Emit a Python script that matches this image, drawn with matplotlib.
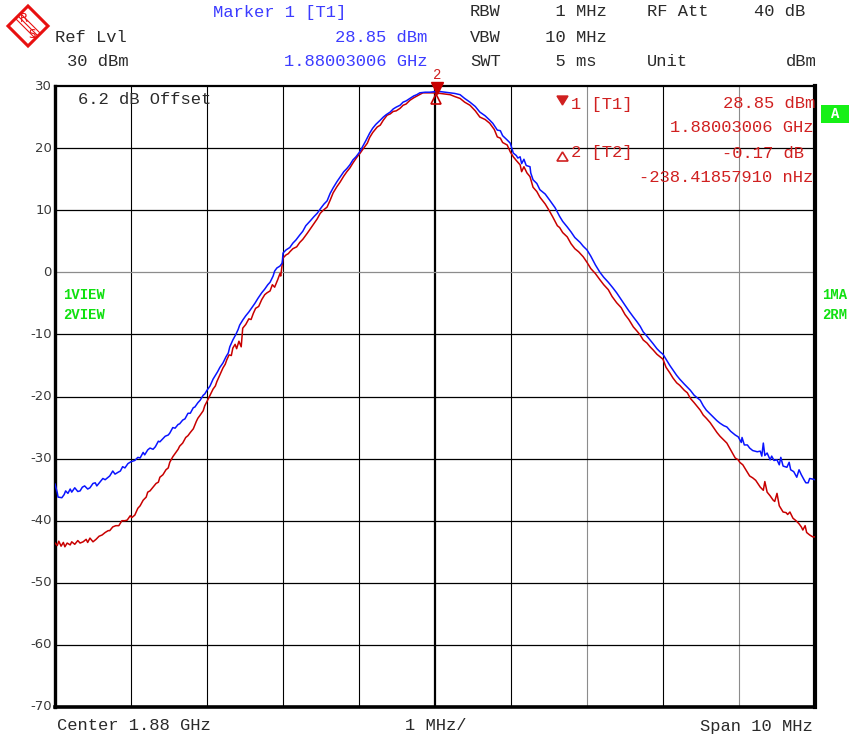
import matplotlib
matplotlib.use("Agg")
import matplotlib.pyplot as plt
from matplotlib.patches import Polygon, Rectangle

# ---- trace data: frequency offset from center (MHz), level (dBm) ----
freq_ma = [-5.00, -4.97, -4.96, -4.91, -4.88, -4.86, -4.83, -4.80, -4.78, -4.74, -4.70, -4.67, -4.64, -4.61,
           -4.57, -4.54, -4.50, -4.47, -4.45, -4.41, -4.37, -4.34, -4.30, -4.28, -4.24, -4.21, -4.17, -4.14,
           -4.11, -4.08, -4.04, -4.00, -3.95, -3.91, -3.88, -3.84, -3.82, -3.78, -3.75, -3.71, -3.68, -3.64,
           -3.62, -3.58, -3.55, -3.51, -3.49, -3.45, -3.42, -3.38, -3.36, -3.32, -3.29, -3.25, -3.22, -3.18,
           -3.16, -3.12, -3.09, -3.05, -3.03, -3.00, -2.96, -2.92, -2.89, -2.86, -2.83, -2.79, -2.75, -2.72,
           -2.70, -2.66, -2.62, -2.59, -2.57, -2.53, -2.49, -2.45, -2.41, -2.37, -2.33, -2.28, -2.24, -2.20,
           -2.17, -2.13, -2.11, -2.08, -2.04, -2.01, -2.00, -1.96, -1.91, -1.87, -1.83, -1.78, -1.74, -1.70,
           -1.64, -1.59, -1.55, -1.51, -1.46, -1.42, -1.38, -1.34, -1.29, -1.25, -1.20, -1.16, -1.12, -1.08,
           -1.04, -0.99, -0.95, -0.91, -0.86, -0.82, -0.78, -0.72, -0.68, -0.64, -0.59, -0.55, -0.51, -0.46,
           -0.42, -0.38, -0.33, -0.28, -0.24, -0.20, -0.13, -0.07, 0.01, 0.07, 0.13, 0.20, 0.26, 0.33,
           0.39, 0.46, 0.53, 0.59, 0.66, 0.72, 0.76, 0.82, 0.86, 0.89, 0.95, 0.99, 1.03, 1.07,
           1.09, 1.12, 1.14, 1.17, 1.20, 1.25, 1.26, 1.29, 1.34, 1.38, 1.45, 1.51, 1.58, 1.64,
           1.68, 1.74, 1.79, 1.84, 1.91, 1.95, 2.00, 2.05, 2.11, 2.17, 2.22, 2.28, 2.34, 2.39,
           2.45, 2.50, 2.55, 2.61, 2.66, 2.70, 2.74, 2.79, 2.83, 2.87, 2.92, 2.96, 3.00, 3.04,
           3.09, 3.13, 3.18, 3.22, 3.28, 3.32, 3.36, 3.41, 3.45, 3.49, 3.53, 3.57, 3.62, 3.66,
           3.71, 3.75, 3.80, 3.84, 3.89, 3.95, 3.99, 4.03, 4.04, 4.07, 4.11, 4.14, 4.18, 4.24,
           4.28, 4.30, 4.32, 4.34, 4.37, 4.41, 4.43, 4.46, 4.50, 4.53, 4.55, 4.58, 4.63, 4.66,
           4.68, 4.72, 4.76, 4.79, 4.82, 4.86, 4.88, 4.91, 4.93, 4.97, 5.00]
level_ma = [-34.1, -35.5, -36.2, -36.3, -35.8, -35.2, -35.6, -34.9, -35.4, -34.7, -35.3, -35.2, -34.6, -34.4,
            -34.9, -34.7, -34.0, -33.9, -34.4, -33.8, -33.2, -33.4, -33.0, -32.8, -32.0, -32.5, -32.2, -32.0,
            -31.3, -31.5, -30.8, -30.5, -30.3, -29.8, -29.9, -29.0, -29.4, -28.6, -28.3, -28.5, -28.1, -27.2,
            -27.3, -26.8, -26.4, -26.2, -25.9, -25.0, -25.1, -24.5, -24.4, -23.8, -23.6, -22.7, -22.7, -21.8,
            -21.7, -21.0, -20.6, -19.8, -19.6, -19.0, -18.3, -17.2, -16.6, -16.0, -15.3, -14.6, -13.6, -13.0,
            -12.0, -10.9, -10.0, -9.2, -8.5, -7.7, -7.0, -6.4, -5.7, -5.0, -4.2, -3.3, -2.7, -2.0,
            -1.6, -0.6, 0.2, 0.7, 1.0, 1.5, 3.1, 3.6, 4.0, 4.7, 5.2, 6.0, 6.6, 7.5,
            8.3, 9.0, 9.5, 10.2, 11.0, 11.5, 12.7, 13.6, 14.6, 15.3, 16.2, 16.7, 17.3, 18.1,
            18.6, 19.4, 20.3, 21.2, 22.4, 23.2, 23.8, 24.5, 25.0, 25.4, 25.8, 26.3, 26.6, 26.9,
            27.4, 27.6, 28.0, 28.4, 28.6, 28.9, 29.0, 29.0, 29.1, 29.1, 29.0, 28.9, 28.8, 28.6,
            28.0, 27.4, 26.7, 25.8, 25.2, 24.5, 24.0, 22.9, 22.8, 22.0, 21.3, 20.8, 19.2, 18.8,
            18.4, 18.6, 17.5, 18.2, 17.2, 17.0, 16.0, 14.9, 14.3, 13.3, 12.6, 11.6, 10.4, 9.0,
            8.2, 7.3, 6.5, 5.6, 4.8, 4.2, 3.6, 2.6, 1.2, 0.0, -0.8, -1.6, -2.5, -3.3,
            -4.4, -5.3, -6.2, -7.2, -8.0, -8.7, -9.6, -10.3, -10.9, -11.5, -12.3, -12.8, -13.2, -14.0,
            -15.0, -15.7, -16.6, -17.2, -18.0, -18.5, -19.0, -19.8, -20.2, -20.6, -21.5, -22.2, -22.8, -23.3,
            -23.9, -24.3, -24.7, -24.9, -25.6, -26.2, -26.5, -27.4, -26.6, -27.8, -27.8, -28.3, -28.7, -28.9,
            -28.8, -29.6, -27.5, -29.5, -29.1, -30.2, -29.6, -30.3, -30.2, -31.0, -29.8, -31.2, -31.4, -30.6,
            -31.8, -32.1, -33.0, -31.8, -32.6, -33.5, -33.9, -33.9, -33.2, -33.3, -33.4]

freq_rm = [-5.00, -4.97, -4.95, -4.92, -4.89, -4.87, -4.84, -4.80, -4.78, -4.74, -4.70, -4.67, -4.63, -4.59,
           -4.57, -4.54, -4.50, -4.46, -4.42, -4.38, -4.34, -4.30, -4.28, -4.24, -4.20, -4.16, -4.12, -4.08,
           -4.05, -4.01, -3.99, -3.95, -3.91, -3.88, -3.84, -3.80, -3.78, -3.75, -3.71, -3.67, -3.64, -3.62,
           -3.58, -3.54, -3.51, -3.49, -3.45, -3.41, -3.38, -3.36, -3.32, -3.28, -3.25, -3.22, -3.18, -3.14,
           -3.12, -3.09, -3.05, -3.03, -3.00, -2.96, -2.92, -2.89, -2.87, -2.83, -2.79, -2.76, -2.74, -2.71,
           -2.68, -2.66, -2.63, -2.61, -2.58, -2.55, -2.53, -2.49, -2.45, -2.42, -2.39, -2.36, -2.32, -2.28,
           -2.24, -2.21, -2.17, -2.14, -2.11, -2.07, -2.04, -2.03, -2.00, -1.96, -1.93, -1.91, -1.87, -1.82,
           -1.78, -1.74, -1.68, -1.64, -1.61, -1.55, -1.51, -1.47, -1.42, -1.38, -1.34, -1.29, -1.25, -1.20,
           -1.16, -1.12, -1.08, -1.03, -0.99, -0.95, -0.89, -0.86, -0.82, -0.76, -0.72, -0.68, -0.63, -0.59,
           -0.55, -0.51, -0.46, -0.42, -0.38, -0.33, -0.28, -0.22, -0.16, -0.09, -0.04, 0.03, 0.07, 0.13,
           0.20, 0.26, 0.33, 0.39, 0.46, 0.53, 0.59, 0.66, 0.72, 0.78, 0.82, 0.86, 0.89, 0.95,
           0.99, 1.03, 1.07, 1.12, 1.14, 1.17, 1.21, 1.25, 1.29, 1.34, 1.38, 1.45, 1.50, 1.55,
           1.61, 1.64, 1.68, 1.74, 1.79, 1.84, 1.89, 1.95, 2.00, 2.05, 2.11, 2.17, 2.22, 2.28,
           2.33, 2.39, 2.45, 2.50, 2.55, 2.61, 2.66, 2.70, 2.74, 2.79, 2.83, 2.87, 2.92, 2.96,
           3.00, 3.04, 3.09, 3.13, 3.18, 3.22, 3.28, 3.32, 3.36, 3.41, 3.45, 3.49, 3.53, 3.57,
           3.62, 3.66, 3.71, 3.75, 3.80, 3.84, 3.89, 3.95, 3.99, 4.01, 4.05, 4.09, 4.14, 4.18,
           4.22, 4.28, 4.32, 4.34, 4.37, 4.41, 4.45, 4.47, 4.50, 4.53, 4.55, 4.58, 4.62, 4.64,
           4.67, 4.71, 4.75, 4.79, 4.82, 4.84, 4.87, 4.89, 4.93, 4.97, 5.00]
level_rm = [-43.6, -44.0, -43.3, -44.1, -43.5, -44.2, -43.6, -43.9, -43.4, -43.8, -43.2, -43.6, -43.4, -43.0,
            -43.5, -42.8, -43.4, -43.0, -42.5, -42.3, -41.9, -41.6, -41.6, -41.0, -40.8, -40.8, -40.0, -40.0,
            -39.9, -39.2, -39.5, -39.1, -38.0, -37.6, -36.7, -36.2, -35.4, -35.2, -34.6, -34.0, -33.8, -33.0,
            -32.6, -31.8, -31.5, -30.6, -29.7, -29.0, -28.5, -28.0, -27.5, -26.6, -26.3, -25.8, -25.2, -24.0,
            -23.5, -23.0, -22.3, -21.5, -20.8, -19.8, -18.8, -18.3, -17.6, -16.5, -15.4, -14.8, -14.1, -13.3,
            -13.4, -12.2, -11.6, -12.3, -11.1, -12.0, -9.0, -8.4, -7.5, -7.6, -6.6, -5.8, -5.5, -4.4,
            -3.6, -3.3, -3.0, -2.0, -2.4, -1.2, -0.2, -0.6, 2.3, 2.8, 3.0, 3.3, 3.8, 4.1,
            4.8, 5.3, 6.3, 7.0, 7.5, 8.6, 9.5, 10.0, 10.5, 11.6, 12.8, 13.8, 14.5, 15.5,
            16.2, 16.8, 17.6, 18.5, 19.1, 19.8, 20.8, 21.7, 22.5, 23.4, 23.7, 24.5, 25.3, 25.5,
            25.9, 26.0, 26.4, 26.9, 27.1, 27.7, 28.1, 28.5, 28.9, 28.9, 28.9, 28.85, 28.8, 28.7,
            28.6, 28.3, 28.0, 27.4, 26.9, 26.0, 25.0, 24.6, 24.0, 23.0, 21.8, 21.6, 20.9, 20.5,
            19.4, 18.6, 18.0, 17.3, 16.2, 17.0, 16.0, 15.4, 13.7, 13.0, 12.1, 11.0, 10.0, 8.9,
            7.5, 7.2, 6.4, 5.7, 4.6, 3.8, 3.3, 2.5, 1.6, 0.6, -0.2, -1.2, -2.0, -2.8,
            -3.9, -4.9, -5.7, -6.8, -7.6, -8.8, -9.5, -10.1, -10.9, -11.4, -12.0, -12.5, -13.2, -13.6,
            -14.0, -15.3, -16.2, -17.0, -17.8, -18.2, -19.0, -19.4, -20.3, -21.0, -21.6, -22.2, -23.0, -23.5,
            -24.2, -24.9, -25.8, -26.4, -27.0, -27.5, -28.6, -29.9, -30.2, -30.6, -31.0, -31.8, -32.8, -33.1,
            -33.5, -34.6, -35.1, -33.7, -35.4, -36.0, -36.7, -36.9, -35.6, -37.6, -38.0, -38.6, -38.7, -39.0,
            -38.6, -39.6, -40.0, -40.5, -41.0, -41.5, -40.8, -41.9, -42.3, -42.6, -42.6]

# markers
m1_freq, m1_level = 0.03, 28.85
m2_freq, m2_delta = 0.0, -0.17

y_ticks = [30, 20, 10, 0, -10, -20, -30, -40, -50, -60, -70]
x_divs = [-5, -4, -3, -2, -1, 0, 1, 2, 3, 4, 5]

W, H = 851, 738
fig = plt.figure(figsize=(W / 100, H / 100), dpi=100)
fig.patch.set_facecolor("white")


def fx(x):
    return x / W


def fy(y):
    return 1 - y / H


ax = fig.add_axes([fx(55), fy(707), (815 - 55) / W, (707 - 86) / H])
ax.set_xlim(-5, 5)
ax.set_ylim(-70, 30)
ax.set_xticks([])
ax.set_yticks([])

# graticule
for xv in x_divs[1:-1]:
    col = "#8c8c8c" if xv in (2, 4) else "black"
    lw = 1.6 if xv == 0 else 0.8
    ax.axvline(xv, color=col, lw=lw, zorder=1)
for yv in y_ticks[1:-1]:
    col = "#8c8c8c" if yv == 0 else "black"
    ax.axhline(yv, color=col, lw=0.9, zorder=1)

for side, lw in (("left", 2.4), ("bottom", 2.6), ("right", 3.0), ("top", 1.6)):
    ax.spines[side].set_linewidth(lw)
    ax.spines[side].set_color("black")

ax.plot(freq_rm, level_rm, color="#c80000", lw=1.1, zorder=3)
ax.plot(freq_ma, level_ma, color="#0a14ff", lw=1.1, zorder=4)

# marker symbols
mc = "#c80000"
ax.plot([m1_freq], [m1_level + 0.85], marker="v", ms=8, color=mc, clip_on=False, zorder=6)
ax.plot([m2_freq + 0.01], [m1_level + m2_delta - 0.75], marker="^", ms=7, mfc="none", mec=mc, mew=1.2,
        clip_on=False, zorder=6)

mono = "Liberation Mono"
fs = 12.3
ink = "#2a2a2a"

# y tick labels
for yv in y_ticks:
    fig.text(fx(52), fy(86 + (30 - yv) * 6.21), f"{yv}", ha="right", va="center",
             fontsize=9.5, color="#3a3a3a", family="DejaVu Sans")

blue = "#3c3cff"
# header
fig.text(fx(213), fy(12), "Marker 1 [T1]", color=blue, family=mono, fontsize=fs, va="center")
fig.text(fx(427), fy(37), "28.85 dBm", color=blue, family=mono, fontsize=fs, va="center", ha="right")
fig.text(fx(427), fy(62), "1.88003006 GHz", color=blue, family=mono, fontsize=fs, va="center", ha="right")
fig.text(fx(55), fy(37), "Ref Lvl", color=ink, family=mono, fontsize=fs, va="center")
fig.text(fx(67), fy(62), "30 dBm", color=ink, family=mono, fontsize=fs, va="center")
for row, (lab, val) in enumerate([("RBW", "  1 MHz"), ("VBW", " 10 MHz"), ("SWT", "  5 ms ")]):
    yy = 12 + row * 25
    fig.text(fx(470), fy(yy), lab, color=ink, family=mono, fontsize=fs, va="center")
    fig.text(fx(535), fy(yy), val, color=ink, family=mono, fontsize=fs, va="center")
fig.text(fx(647), fy(12), "RF Att", color=ink, family=mono, fontsize=fs, va="center")
fig.text(fx(805), fy(12), "40 dB", color=ink, family=mono, fontsize=fs, va="center", ha="right")
fig.text(fx(647), fy(62), "Unit", color=ink, family=mono, fontsize=fs, va="center")
fig.text(fx(817), fy(62), "dBm", color=ink, family=mono, fontsize=fs, va="center", ha="right")

# in-graticule annotations
fig.text(fx(78), fy(100), "6.2 dB Offset", color=ink, family=mono, fontsize=fs, va="center")
rc = "#d02020"
fig.text(fx(571), fy(104), "1 [T1]", color=rc, family=mono, fontsize=fs, va="center")
fig.text(fx(815), fy(104), "28.85 dBm", color=rc, family=mono, fontsize=fs, va="center", ha="right")
fig.text(fx(813), fy(128), "1.88003006 GHz", color=rc, family=mono, fontsize=fs, va="center", ha="right")
fig.text(fx(571), fy(153), "2 [T2]", color=rc, family=mono, fontsize=fs, va="center")
fig.text(fx(804), fy(154), "-0.17 dB", color=rc, family=mono, fontsize=fs, va="center", ha="right")
fig.text(fx(813), fy(178), "-238.41857910 nHz", color=rc, family=mono, fontsize=fs, va="center", ha="right")
fig.add_artist(Polygon([[fx(557), fy(96)], [fx(568), fy(96)], [fx(562.5), fy(105)]], closed=True,
                       transform=fig.transFigure, facecolor=rc, edgecolor=rc))
fig.add_artist(Polygon([[fx(557), fy(161)], [fx(568), fy(161)], [fx(562.5), fy(152)]], closed=True,
                       transform=fig.transFigure, facecolor="none", edgecolor=rc, lw=1.2))
fig.text(fx(437), fy(75), "2", color=rc, family=mono, fontsize=10, va="center", ha="center")

# trace labels
green = "#10e010"
fig.text(fx(63), fy(295), "1VIEW", color=green, family=mono, fontsize=10, weight="bold", va="center")
fig.text(fx(63), fy(315), "2VIEW", color=green, family=mono, fontsize=10, weight="bold", va="center")
fig.text(fx(822), fy(295), "1MA", color=green, family=mono, fontsize=10, weight="bold", va="center")
fig.text(fx(822), fy(315), "2RM", color=green, family=mono, fontsize=10, weight="bold", va="center")
fig.add_artist(Rectangle((fx(821), fy(123)), 28 / W, 18 / H, transform=fig.transFigure,
                         facecolor="#16f016", edgecolor="none"))
fig.text(fx(835), fy(114), "A", color="white", family=mono, fontsize=10, weight="bold",
         va="center", ha="center")

# footer
fig.text(fx(57), fy(726), "Center 1.88 GHz", color=ink, family=mono, fontsize=fs, va="center")
fig.text(fx(436), fy(726), "1 MHz/", color=ink, family=mono, fontsize=fs, va="center", ha="center")
fig.text(fx(813), fy(726), "Span 10 MHz", color=ink, family=mono, fontsize=fs, va="center", ha="right")

# logo: red diamond with stripes and R / S letters
lc = "#e81010"
cx, cy, r = 28, 26, 20
logo = Polygon([[fx(cx - r), fy(cy)], [fx(cx), fy(cy - r)], [fx(cx + r), fy(cy)], [fx(cx), fy(cy + r)]],
               closed=True, transform=fig.transFigure, facecolor="white", edgecolor=lc, lw=2.2)
fig.add_artist(logo)
for off in (-2.5, 0, 2.5):
    fig.add_artist(plt.Line2D([fx(cx - 9 + off), fx(cx + 9 + off)], [fy(cy - 9 - off), fy(cy + 9 - off)],
                              transform=fig.transFigure, color=lc, lw=0.8))
fig.text(fx(cx - 4), fy(cy - 8), "R", color=lc, family="DejaVu Sans", fontsize=8.5, ha="center",
         va="center")
fig.text(fx(cx + 4), fy(cy + 8), "S", color=lc, family="DejaVu Sans", fontsize=8.5, ha="center",
         va="center")

fig.savefig("out.png", dpi=100, facecolor="white")
